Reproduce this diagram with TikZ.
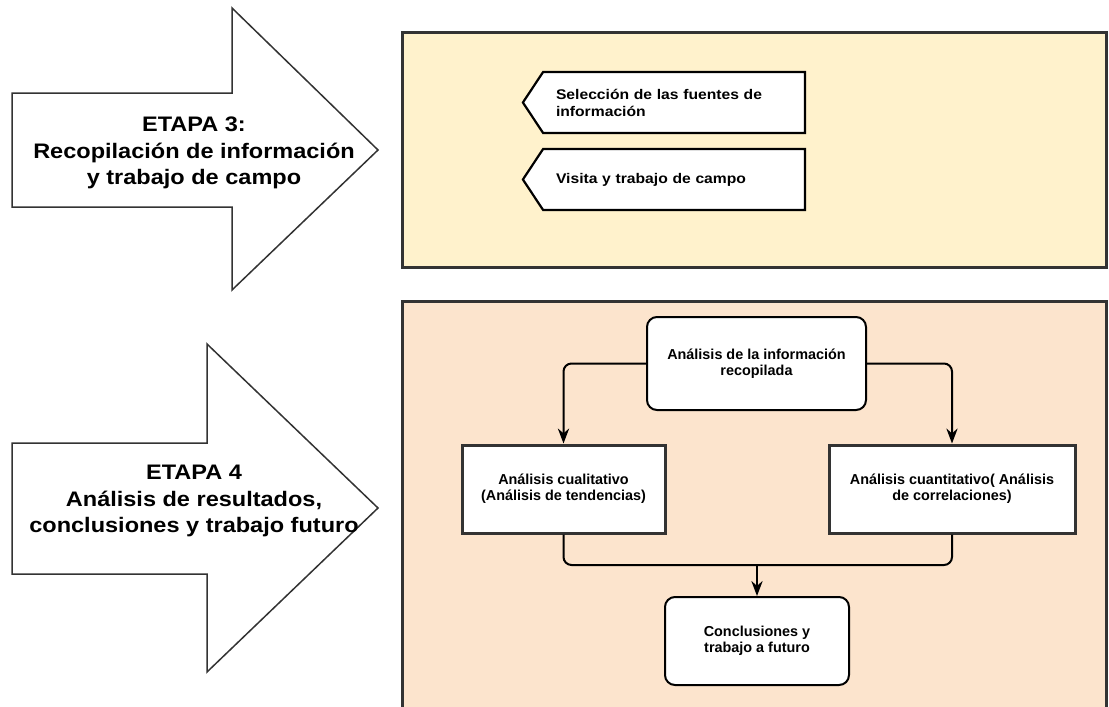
\documentclass[tikz,border=0pt]{standalone}
\usepackage{fontspec}
\setmainfont{Liberation Sans}
\newfontfamily\widefont[FakeStretch=1.12]{Liberation Sans}
\usepackage{tikz}
\usetikzlibrary{arrows.meta,positioning,shapes.symbols}
\usepackage{xcolor}
\definecolor{pale}{HTML}{FFF2CC}
\definecolor{peach}{HTML}{FCE4CD}
\definecolor{edge}{HTML}{333333}

\begin{document}
\begin{tikzpicture}[x=0.5pt, y=-0.5pt, >=Stealth,
  stage/.style={font=\widefont\bfseries\fontsize{10.5}{13.3}\selectfont, align=center},
  panel/.style={draw=edge, line width=1.5pt},
  bigarrow/.style={draw=edge, line width=0.75pt, fill=white},
  tag/.style={draw=black, line width=1.1pt, fill=white, signal, signal to=west,
    signal pointer angle=113, minimum width=141pt, minimum height=30.5pt,
    inner sep=0pt, text width=118pt, align=left,
    font=\widefont\bfseries\fontsize{7}{8.5}\selectfont},
  rbox/.style={draw=black, line width=1pt, fill=white, rounded corners=5pt,
    align=center, font=\bfseries\fontsize{7.2}{8}\selectfont},
  sbox/.style={draw=edge, line width=1.5pt, fill=white,
    align=center, font=\bfseries\fontsize{7.2}{8}\selectfont},
  link/.style={draw=black, line width=1pt, rounded corners=4pt}]

  \useasboundingbox (0,0) rectangle (1109,707);

  % Background panels
  \draw[panel, fill=pale] (402,32) rectangle (1106,267);
  \fill[peach] (402,301) rectangle (1106,707);
  \draw[panel] (402,707) |- (1106,301) -- (1106,707);

  % Stage arrows
  \draw[bigarrow] (12,93) -- (232,93) -- (232,8) -- (378,150) -- (232,290)
    -- (232,207) -- (12,207) -- cycle;
  \draw[bigarrow] (12,443) -- (207,443) -- (207,344) -- (378,508) -- (207,672)
    -- (207,574) -- (12,574) -- cycle;
  \node[stage] (stage3) at (194,153) {ETAPA 3:\\Recopilación de información\\y trabajo de campo};
  \node[stage] (stage4) at (194,501) {ETAPA 4\\Análisis de resultados,\\conclusiones y trabajo futuro};

  % Stage 3 steps
  \node[tag] (fuentes) at (674,102.5) {Selección de las fuentes de\\información};
  \node[tag] (visita) at (674,179.5) {Visita y trabajo de campo};

  % Stage 4 steps
  \node[rbox, minimum width=109.5pt, minimum height=46.5pt] (gather) at (756.5,363.5)
    {Análisis de la información\\recopilada};
  \node[sbox, minimum width=101.5pt, minimum height=44pt] (cuali) at (563.5,489)
    {Análisis cualitativo\\(Análisis de tendencias)};
  \node[sbox, minimum width=123pt, minimum height=44pt] (cuanti) at (952,489)
    {Análisis cuantitativo( Análisis\\de correlaciones)};
  \node[rbox, minimum width=92pt, minimum height=44pt] (concl) at (757,641)
    {Conclusiones y\\trabajo a futuro};
  \coordinate (join) at (757,565);

  % Draw arrows between nodes
  \draw[link, ->] (gather.west) -| (cuali.north);
  \draw[link, ->] (gather.east) -| (cuanti.north);
  \draw[link] (cuali.south) |- (join);
  \draw[link] (cuanti.south) |- (join);
  \draw[link, ->] (join) -- (concl.north);
\end{tikzpicture}
\end{document}
